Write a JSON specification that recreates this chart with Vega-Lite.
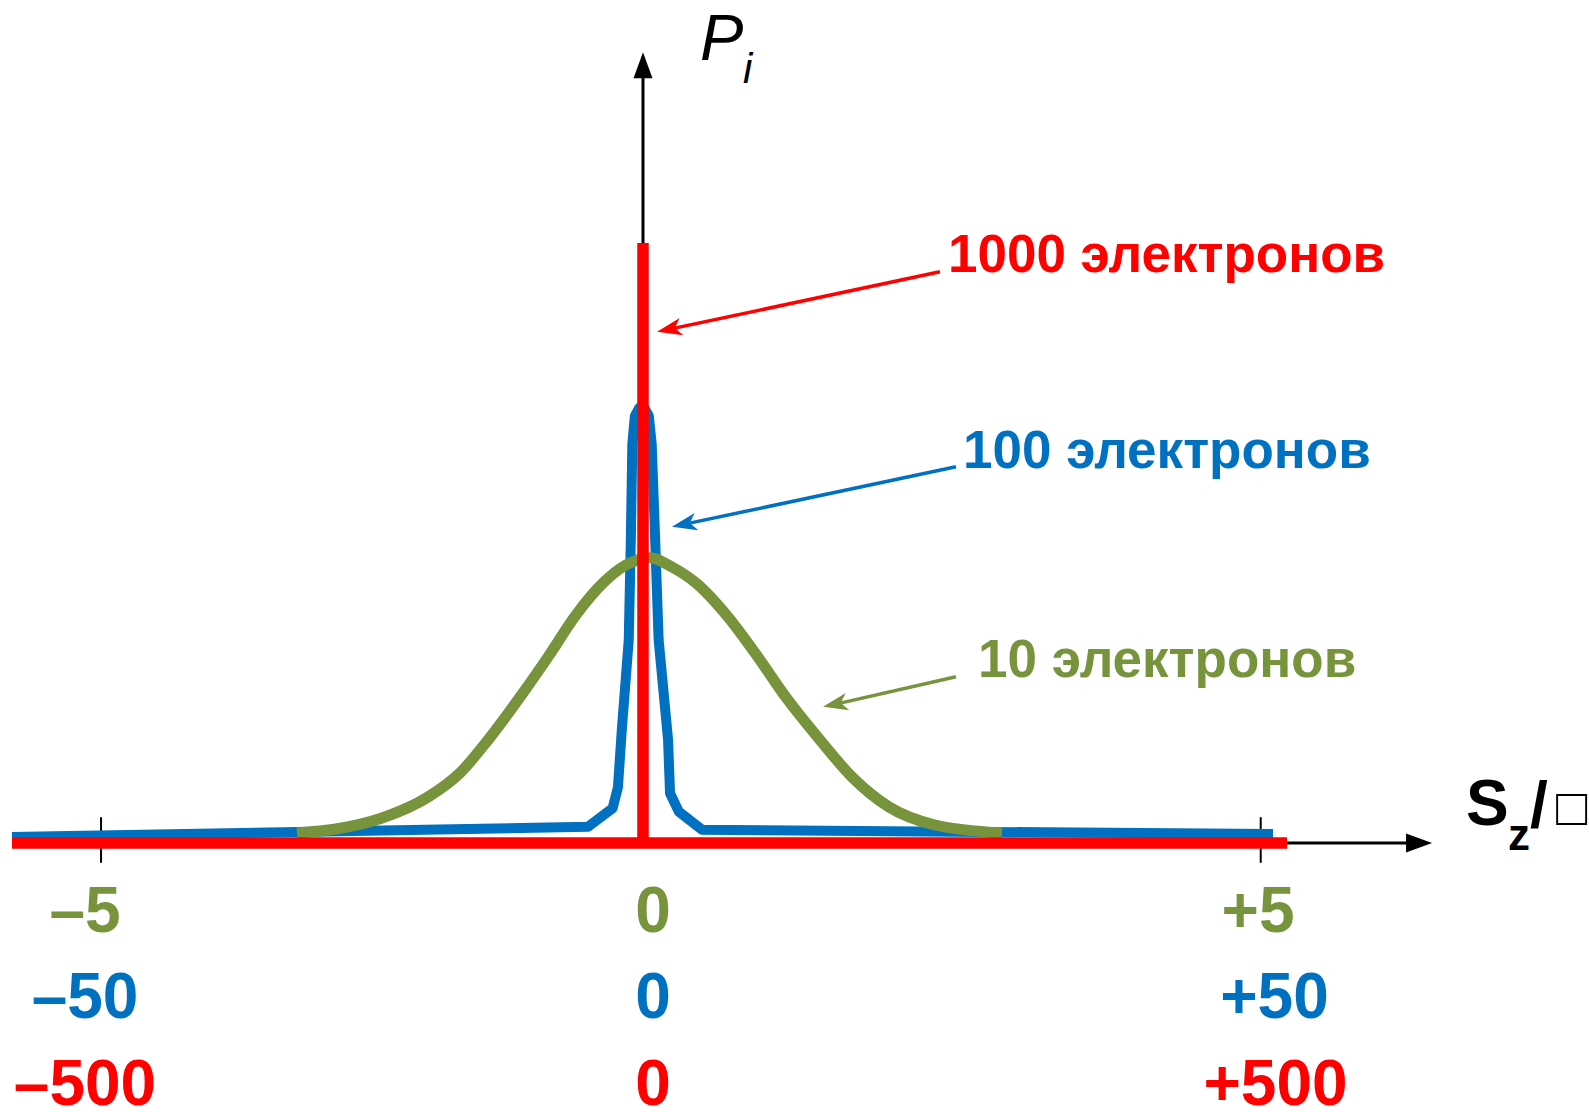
{
  "$schema": "https://vega.github.io/schema/vega-lite/v6.json",
  "width": 1589,
  "height": 1112,
  "autosize": {"type": "none"},
  "padding": 0,
  "background": "white",
  "config": {"view": {"stroke": null}},
  "datasets": {
    "axes": [
      {"x": -5.44, "y": 0, "x2": 6.65, "y2": 0},
      {"x": 0, "y": 0, "x2": 0, "y2": 1.29}
    ],
    "ticks": [
      {"x": -4.672, "y": 0.043, "y2": -0.033},
      {"x": 5.325, "y": 0.043, "y2": -0.033}
    ],
    "curves": [
      {"n": "100", "x": -5.44, "y": 0.010},
      {"n": "100", "x": -0.474, "y": 0.027},
      {"n": "100", "x": -0.262, "y": 0.058},
      {"n": "100", "x": -0.216, "y": 0.093},
      {"n": "100", "x": -0.183, "y": 0.188},
      {"n": "100", "x": -0.123, "y": 0.338},
      {"n": "100", "x": -0.105, "y": 0.505},
      {"n": "100", "x": -0.092, "y": 0.665},
      {"n": "100", "x": -0.070, "y": 0.712},
      {"n": "100", "x": -0.030, "y": 0.726},
      {"n": "100", "x": 0.010, "y": 0.726},
      {"n": "100", "x": 0.050, "y": 0.712},
      {"n": "100", "x": 0.075, "y": 0.665},
      {"n": "100", "x": 0.105, "y": 0.505},
      {"n": "100", "x": 0.135, "y": 0.338},
      {"n": "100", "x": 0.216, "y": 0.172},
      {"n": "100", "x": 0.233, "y": 0.083},
      {"n": "100", "x": 0.310, "y": 0.052},
      {"n": "100", "x": 0.509, "y": 0.022},
      {"n": "100", "x": 5.431, "y": 0.015},
      {"n": "10", "x": -2.983, "y": 0.0167},
      {"n": "10", "x": -2.647, "y": 0.0233},
      {"n": "10", "x": -2.250, "y": 0.0417},
      {"n": "10", "x": -1.853, "y": 0.0767},
      {"n": "10", "x": -1.578, "y": 0.1167},
      {"n": "10", "x": -1.336, "y": 0.1717},
      {"n": "10", "x": -1.060, "y": 0.2433},
      {"n": "10", "x": -0.819, "y": 0.310},
      {"n": "10", "x": -0.578, "y": 0.380},
      {"n": "10", "x": -0.345, "y": 0.4333},
      {"n": "10", "x": -0.147, "y": 0.4633},
      {"n": "10", "x": 0.060, "y": 0.4755},
      {"n": "10", "x": 0.250, "y": 0.460},
      {"n": "10", "x": 0.457, "y": 0.4333},
      {"n": "10", "x": 0.733, "y": 0.3767},
      {"n": "10", "x": 0.966, "y": 0.3167},
      {"n": "10", "x": 1.250, "y": 0.2383},
      {"n": "10", "x": 1.526, "y": 0.1717},
      {"n": "10", "x": 1.802, "y": 0.110},
      {"n": "10", "x": 2.121, "y": 0.060},
      {"n": "10", "x": 2.517, "y": 0.030},
      {"n": "10", "x": 3.095, "y": 0.0167}
    ],
    "delta": [
      {"n": "1000", "x": -5.44, "y": 0, "x2": 5.552, "y2": 0},
      {"n": "1000", "x": 0, "y": 0, "x2": 0, "y2": 1}
    ],
    "arrows": [
      {"n": "1000", "xt": 2.56, "yt": 0.952, "xe": 0.222, "ye": 0.856, "x": 0.121, "y": 0.852},
      {"n": "100", "xt": 2.698, "yt": 0.627, "xe": 0.351, "ye": 0.531, "x": 0.25, "y": 0.527},
      {"n": "10", "xt": 2.698, "yt": 0.277, "xe": 1.653, "ye": 0.231, "x": 1.552, "y": 0.227}
    ],
    "series": [
      {"n": "1000", "label": "1000 электронов", "x": 2.629, "y": 0.952},
      {"n": "100", "label": "100 электронов", "x": 2.759, "y": 0.625},
      {"n": "10", "label": "10 электронов", "x": 2.888, "y": 0.277}
    ],
    "scale": [
      {"n": "10", "label": "–5", "x": -4.81, "y": -0.148},
      {"n": "10", "label": "0", "x": 0.086, "y": -0.148},
      {"n": "10", "label": "+5", "x": 5.302, "y": -0.148},
      {"n": "100", "label": "–50", "x": -4.81, "y": -0.292},
      {"n": "100", "label": "0", "x": 0.086, "y": -0.292},
      {"n": "100", "label": "+50", "x": 5.444, "y": -0.292},
      {"n": "1000", "label": "–500", "x": -4.81, "y": -0.437},
      {"n": "1000", "label": "0", "x": 0.086, "y": -0.437},
      {"n": "1000", "label": "+500", "x": 5.453, "y": -0.437}
    ]
  },
  "encoding": {
    "x": {"field": "x", "type": "quantitative", "scale": {"domain": [-5.543, 8.155], "nice": false, "zero": false}, "axis": null},
    "y": {"field": "y", "type": "quantitative", "scale": {"domain": [-0.4483, 1.405], "nice": false, "zero": false}, "axis": null}
  },
  "layer": [
    {
      "data": {"name": "axes"},
      "mark": {"type": "rule", "color": "black", "strokeWidth": 3},
      "encoding": {"x2": {"field": "x2"}, "y2": {"field": "y2"}}
    },
    {
      "data": {"name": "ticks"},
      "mark": {"type": "rule", "color": "black", "strokeWidth": 2},
      "encoding": {"y2": {"field": "y2"}}
    },
    {
      "data": {"values": [{"x": 0, "y": 1.318}]},
      "mark": {"type": "point", "shape": "M0,0 L0.73,2 L-0.73,2 Z", "size": 676, "filled": true, "opacity": 1, "color": "black", "strokeWidth": 0, "angle": 0}
    },
    {
      "data": {"values": [{"x": 6.802, "y": 0}]},
      "mark": {"type": "point", "shape": "M0,0 L0.73,2 L-0.73,2 Z", "size": 676, "filled": true, "opacity": 1, "color": "black", "strokeWidth": 0, "angle": 90}
    },
    {
      "data": {"name": "curves"},
      "transform": [{"filter": "datum.n == '100'"}],
      "mark": {"type": "line", "strokeWidth": 10, "strokeJoin": "round"},
      "encoding": {
        "color": {"field": "n", "type": "nominal", "scale": {"domain": ["10", "100", "1000"], "range": ["#77933C", "#0070C0", "#FF0000"]}, "legend": null}
      }
    },
    {
      "data": {"name": "curves"},
      "transform": [{"filter": "datum.n == '10'"}],
      "mark": {"type": "line", "strokeWidth": 11, "interpolate": "monotone"},
      "encoding": {"color": {"field": "n", "type": "nominal", "legend": null}}
    },
    {
      "data": {"name": "delta"},
      "mark": {"type": "rule", "strokeWidth": 11.5},
      "encoding": {
        "x2": {"field": "x2"},
        "y2": {"field": "y2"},
        "color": {"field": "n", "type": "nominal", "legend": null}
      }
    },
    {
      "data": {"name": "arrows"},
      "mark": {"type": "rule", "strokeWidth": 3.5},
      "encoding": {
        "x": {"field": "xt", "type": "quantitative"},
        "y": {"field": "yt", "type": "quantitative"},
        "x2": {"field": "xe"},
        "y2": {"field": "ye"},
        "color": {"field": "n", "type": "nominal", "legend": null}
      }
    },
    {
      "data": {"name": "arrows"},
      "mark": {"type": "point", "shape": "M0,0 L0.7,2 L0,1.45 L-0.7,2 Z", "size": 625, "filled": true, "opacity": 1, "strokeWidth": 0, "angle": 258},
      "encoding": {"color": {"field": "n", "type": "nominal", "legend": null}}
    },
    {
      "data": {"name": "series"},
      "mark": {"type": "text", "font": "Liberation Sans", "fontWeight": "bold", "fontSize": 53, "align": "left", "baseline": "alphabetic"},
      "encoding": {
        "text": {"field": "label"},
        "color": {"field": "n", "type": "nominal", "legend": null}
      }
    },
    {
      "data": {"name": "scale"},
      "mark": {"type": "text", "font": "Liberation Sans", "fontWeight": "bold", "fontSize": 64, "align": "center", "baseline": "alphabetic"},
      "encoding": {
        "text": {"field": "label"},
        "color": {"field": "n", "type": "nominal", "legend": null}
      }
    },
    {
      "data": {"values": [{"x": 0.491, "y": 1.305, "t": "P"}]},
      "mark": {"type": "text", "font": "Liberation Sans", "fontStyle": "italic", "fontSize": 65, "align": "left", "baseline": "alphabetic", "color": "black"},
      "encoding": {"text": {"field": "t"}}
    },
    {
      "data": {"values": [{"x": 0.862, "y": 1.267, "t": "i"}]},
      "mark": {"type": "text", "font": "Liberation Sans", "fontStyle": "italic", "fontSize": 42, "align": "left", "baseline": "alphabetic", "color": "black"},
      "encoding": {"text": {"field": "t"}}
    },
    {
      "data": {"values": [{"x": 7.095, "y": 0.03, "t": "S"}, {"x": 7.647, "y": 0.027, "t": "/"}]},
      "mark": {"type": "text", "font": "Liberation Sans", "fontWeight": "bold", "fontSize": 64, "align": "left", "baseline": "alphabetic", "color": "black"},
      "encoding": {"text": {"field": "t"}}
    },
    {
      "data": {"values": [{"x": 7.457, "y": -0.0117, "t": "z"}]},
      "mark": {"type": "text", "font": "Liberation Sans", "fontWeight": "bold", "fontSize": 44, "align": "left", "baseline": "alphabetic", "color": "black"},
      "encoding": {"text": {"field": "t"}}
    },
    {
      "data": {"values": [{"x": 7.87, "y": 0.03, "t": "□"}]},
      "mark": {"type": "text", "font": "Liberation Sans", "fontSize": 52, "align": "left", "baseline": "alphabetic", "color": "black"},
      "encoding": {"text": {"field": "t"}}
    }
  ]
}
